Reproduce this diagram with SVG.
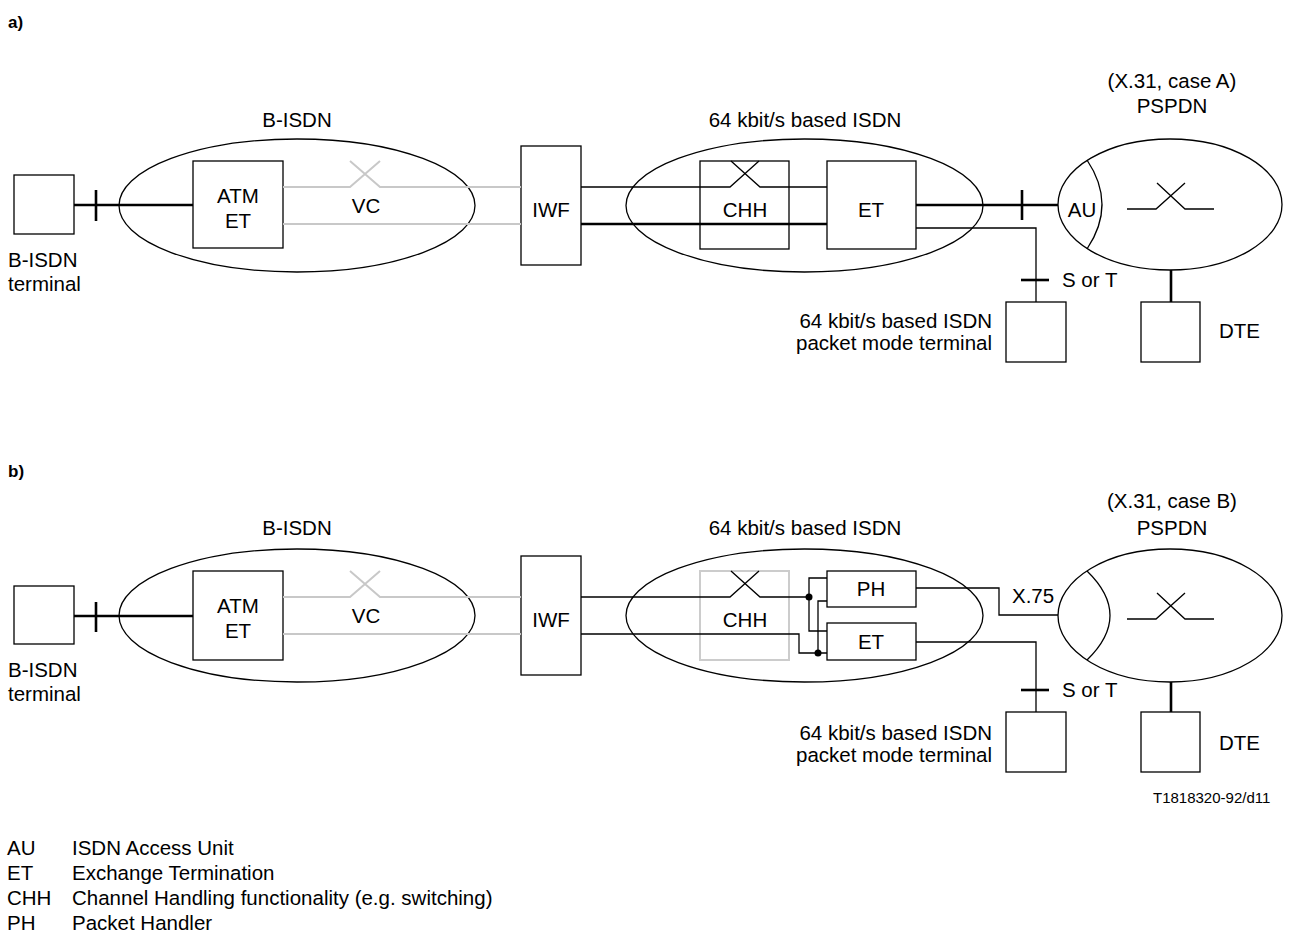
<svg xmlns="http://www.w3.org/2000/svg" width="1290" height="937" viewBox="0 0 1290 937">
<style>
text{font-family:"Liberation Sans",Arial,sans-serif;font-size:20.5px;fill:#000}
.b{font-weight:bold;font-size:17px}
.m{text-anchor:middle}
.e{text-anchor:end}
.sm{font-size:15px}
.box{fill:#fff;stroke:#000;stroke-width:1.3}
.gbox{fill:none;stroke:#ccc;stroke-width:2}
.ell{fill:none;stroke:#000;stroke-width:1.3}
.thin{fill:none;stroke:#000;stroke-width:1.3}
.thick{fill:none;stroke:#000;stroke-width:2.6}
.gray{fill:none;stroke:#c8c8c8;stroke-width:2}
</style>
<rect width="1290" height="937" fill="#fff"/>
<text class="b" x="8" y="28">a)</text>
<text class="b" x="8" y="477">b)</text>

<!-- ===== Part a ===== -->
<g id="a-bisdn-net">
<ellipse class="ell" cx="297" cy="205.5" rx="178" ry="66.5"/>
<text class="m" x="297" y="127">B-ISDN</text>
</g>
<g id="a-isdn-net">
<ellipse class="ell" cx="804.5" cy="205.5" rx="178.5" ry="66.5"/>
<text class="m" x="805" y="127">64 kbit/s based ISDN</text>
</g>
<g id="a-pspdn">
<ellipse class="ell" cx="1170" cy="204.5" rx="112" ry="65.5"/>
<path class="thin" d="M1087,160 Q1117,204.5 1087,249"/>
<text class="m" x="1082" y="217">AU</text>
<path class="thin" d="M1127,209 H1156 L1185,183 M1157,183 L1185,209 H1214"/>
<text class="m" x="1172" y="88">(X.31, case A)</text>
<text class="m" x="1172" y="113">PSPDN</text>
</g>
<g id="a-terminal">
<rect class="box" x="14" y="175" width="60" height="59"/>
<text x="8" y="267">B-ISDN</text>
<text x="8" y="291">terminal</text>
</g>
<g id="a-atm-et">
<rect class="box" x="193" y="161" width="90" height="87"/>
<text class="m" x="238" y="203">ATM</text>
<text class="m" x="238" y="228">ET</text>
</g>
<g id="a-iwf">
<rect class="box" x="521" y="146" width="60" height="119"/>
<text class="m" x="551" y="217">IWF</text>
</g>
<g id="a-chh">
<rect class="thin" x="700" y="161" width="89" height="88"/>
<text class="m" x="745" y="217">CHH</text>
</g>
<g id="a-et">
<rect class="box" x="827" y="161" width="89" height="88"/>
<text class="m" x="871" y="217">ET</text>
</g>
<g id="a-pkt-terminal">
<rect class="box" x="1006" y="302" width="60" height="60"/>
<text class="e" x="992" y="328">64 kbit/s based ISDN</text>
<text class="e" x="992" y="350">packet mode terminal</text>
</g>
<g id="a-dte">
<rect class="box" x="1141" y="302" width="59" height="60"/>
<text x="1219" y="338">DTE</text>
</g>
<g id="a-connectors">
<path class="thick" d="M74,205 H193"/>
<path class="thick" d="M96,190 V221"/>
<path class="gray" d="M283,187 H350 L380,161 M350,161 L380,187 H521"/>
<path class="gray" d="M283,224 H521"/>
<text class="m" x="366" y="213">VC</text>
<path class="thin" d="M581,187 H730 L759,161 M731,161 L760,187 H827"/>
<path class="thick" d="M581,224 H827"/>
<path class="thick" d="M916,205 H1058"/>
<path class="thick" d="M1022,190 V220"/>
<path class="thin" d="M916,228 H1036 V302"/>
<path class="thick" d="M1021,280 H1049"/>
<text x="1062" y="287">S or T</text>
<path class="thick" d="M1171,270 V302"/>
</g>

<!-- ===== Part b ===== -->
<g id="b-bisdn-net">
<ellipse class="ell" cx="297" cy="615.5" rx="178" ry="66.5"/>
<text class="m" x="297" y="535">B-ISDN</text>
</g>
<g id="b-isdn-net">
<ellipse class="ell" cx="804.5" cy="615.5" rx="178.5" ry="66.5"/>
<text class="m" x="805" y="535">64 kbit/s based ISDN</text>
</g>
<g id="b-pspdn">
<ellipse class="ell" cx="1170" cy="615.5" rx="112" ry="66.5"/>
<path class="thin" d="M1087,571 Q1133,615.5 1087,660"/>
<path class="thin" d="M1127,619 H1156 L1185,593 M1157,593 L1185,619 H1214"/>
<text class="m" x="1172" y="508">(X.31, case B)</text>
<text class="m" x="1172" y="535">PSPDN</text>
</g>
<g id="b-chh">
<rect class="gbox" x="700" y="571" width="89" height="89"/>
<text class="m" x="745" y="627">CHH</text>
</g>
<g id="b-terminal">
<rect class="box" x="14" y="586" width="60" height="58"/>
<text x="8" y="677">B-ISDN</text>
<text x="8" y="701">terminal</text>
</g>
<g id="b-atm-et">
<rect class="box" x="193" y="571" width="90" height="89"/>
<text class="m" x="238" y="613">ATM</text>
<text class="m" x="238" y="638">ET</text>
</g>
<g id="b-iwf">
<rect class="box" x="521" y="556" width="60" height="119"/>
<text class="m" x="551" y="627">IWF</text>
</g>
<g id="b-ph">
<rect class="box" x="827" y="571" width="89" height="36"/>
<text class="m" x="871" y="596">PH</text>
</g>
<g id="b-et">
<rect class="box" x="827" y="623" width="89" height="37"/>
<text class="m" x="871" y="649">ET</text>
</g>
<g id="b-pkt-terminal">
<rect class="box" x="1006" y="712" width="60" height="60"/>
<text class="e" x="992" y="740">64 kbit/s based ISDN</text>
<text class="e" x="992" y="762">packet mode terminal</text>
</g>
<g id="b-dte">
<rect class="box" x="1141" y="712" width="59" height="60"/>
<text x="1219" y="750">DTE</text>
</g>
<g id="b-connectors">
<path class="thick" d="M74,616 H193"/>
<path class="thick" d="M96,602 V632"/>
<path class="gray" d="M283,597 H350 L380,571 M350,571 L380,597 H521"/>
<path class="gray" d="M283,634 H521"/>
<text class="m" x="366" y="623">VC</text>
<path class="thin" d="M581,597 H730 L759,571 M731,571 L760,597 H809"/>
<path class="thin" d="M581,634 H799 V653 H827"/>
<path class="thin" d="M827,578 H809 V631 H827"/>
<path class="thin" d="M827,601 H818 V653"/>
<circle cx="809" cy="597" r="3.5" fill="#000"/>
<circle cx="818" cy="653" r="3.5" fill="#000"/>
<path class="thin" d="M916,588 H999 V615 H1058"/>
<text x="1012" y="603">X.75</text>
<path class="thin" d="M916,642 H1036 V712"/>
<path class="thick" d="M1021,690 H1049"/>
<text x="1062" y="697">S or T</text>
<path class="thick" d="M1171,682 V712"/>
</g>
<text class="sm" x="1153" y="803">T1818320-92/d11</text>

<!-- ===== Legend ===== -->
<g id="legend">
<text x="7" y="855">AU</text><text x="72" y="855">ISDN Access Unit</text>
<text x="7" y="880">ET</text><text x="72" y="880">Exchange Termination</text>
<text x="7" y="905">CHH</text><text x="72" y="905">Channel Handling functionality (e.g. switching)</text>
<text x="7" y="930">PH</text><text x="72" y="930">Packet Handler</text>
</g>
</svg>
